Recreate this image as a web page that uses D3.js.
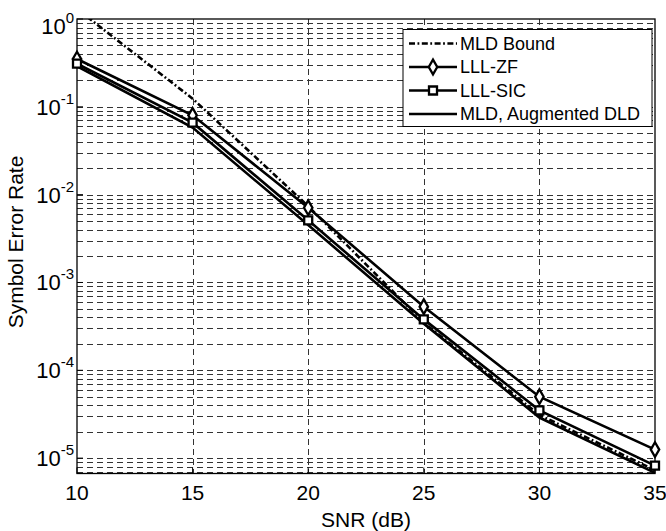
<!DOCTYPE html>
<html>
<head>
<meta charset="utf-8">
<script src="https://cdn.jsdelivr.net/npm/d3@7"></script>
<style>
body { margin: 0; background: #fff; }
</style>
</head>
<body>
<div></div>
<script>
const width = 666, height = 531
const svg = d3.select("div")
    .append("svg")
    .attr("xmlns", "http://www.w3.org/2000/svg")
    .attr("width", width)
    .attr("height", height)
    .style("font-family", "Arial, 'Liberation Sans', sans-serif")

// data
const snr = [10, 15, 20, 25, 30, 35]
const mldBound = [1.3, 0.124, 0.0074, 3.5e-4, 3.1e-5, 7.3e-6]
const lllZf = [0.35, 0.080, 0.0071, 5.3e-4, 5.0e-5, 1.25e-5]
const lllSic = [0.31, 0.066, 0.0051, 3.8e-4, 3.5e-5, 8.2e-6]
const mldAug = [0.29, 0.058, 0.0045, 3.4e-4, 2.9e-5, 6.8e-6]
const xTicks = [10, 15, 20, 25, 30, 35]
const yExps = [0, -1, -2, -3, -4, -5]
const legendNames = ["MLD Bound", "LLL-ZF", "LLL-SIC", "MLD, Augmented DLD"]

const series = [
	{name: legendNames[0], values: mldBound, dash: "6,2.5,1.8,2.5", marker: null},
	{name: legendNames[1], values: lllZf, dash: null, marker: d3.symbolDiamond},
	{name: legendNames[2], values: lllSic, dash: null, marker: d3.symbolSquare},
	{name: legendNames[3], values: mldAug, dash: null, marker: null}
]

// plot box
const pLeft = 77, pRight = 655, pTop = 19, pBottom = 473.5
const x = d3.scaleLinear().domain([10, 35]).range([pLeft, pRight])
const y = d3.scaleLog().domain([Math.pow(10, -5.175), 1]).range([pBottom, pTop])
const lineWidth = 2.6

// grid
const gridColor = "#333"
let minor = []
for (let e = -6; e <= 0; e++) {
	for (let m = 1; m <= 9; m++) {
		const v = m * Math.pow(10, e)
		if (v >= y.domain()[0] && v < 1) minor.push(v)
	}
}
svg.selectAll().data(minor).enter().append("line")
	.attr("x1", pLeft).attr("x2", pRight)
	.attr("y1", d => Math.round(y(d)) + 0.5)
	.attr("y2", d => Math.round(y(d)) + 0.5)
	.attr("stroke", gridColor)
	.attr("stroke-width", 1)
	.attr("stroke-dasharray", "6,4")
svg.selectAll().data(xTicks.slice(1, -1)).enter().append("line")
	.attr("x1", d => Math.round(x(d)) + 0.5).attr("x2", d => Math.round(x(d)) + 0.5)
	.attr("y1", pTop).attr("y2", pBottom)
	.attr("stroke", gridColor)
	.attr("stroke-width", 1)
	.attr("stroke-dasharray", "6,4")

// axes box
svg.append("rect")
	.attr("x", pLeft).attr("y", pTop)
	.attr("width", pRight - pLeft).attr("height", pBottom - pTop)
	.attr("fill", "none")
	.attr("stroke", "#000")
	.attr("stroke-width", 1.3)

// ticks
svg.selectAll().data(xTicks).enter().append("line")
	.attr("x1", d => x(d)).attr("x2", d => x(d))
	.attr("y1", pBottom).attr("y2", pBottom - 6)
	.attr("stroke", "#000")
svg.selectAll().data(yExps).enter().append("line")
	.attr("x1", pLeft).attr("x2", pLeft + 6)
	.attr("y1", d => y(Math.pow(10, d))).attr("y2", d => y(Math.pow(10, d)))
	.attr("stroke", "#000")

// tick labels
svg.selectAll().data(xTicks).enter().append("text")
	.attr("x", d => x(d))
	.attr("y", pBottom + 26)
	.attr("text-anchor", "middle")
	.attr("font-size", 21)
	.text(d => d)
const yLab = svg.selectAll().data(yExps).enter().append("text")
	.attr("x", pLeft - 3)
	.attr("y", d => Math.max(y(Math.pow(10, d)), 26) + 8)
	.attr("text-anchor", "end")
	.attr("font-size", 22)
yLab.append("tspan").text("10")
yLab.append("tspan")
	.attr("dy", -11)
	.attr("font-size", 15)
	.text(d => d)

// axis titles
svg.append("text")
	.attr("x", (pLeft + pRight) / 2)
	.attr("y", 527)
	.attr("text-anchor", "middle")
	.attr("font-size", 21)
	.text("SNR (dB)")
svg.append("text")
	.attr("transform", `translate(23,242) rotate(-90)`)
	.attr("text-anchor", "middle")
	.attr("font-size", 21)
	.text("Symbol Error Rate")

// curves
svg.append("clipPath").attr("id", "plotclip")
	.append("rect").attr("x", pLeft).attr("y", pTop).attr("width", pRight - pLeft).attr("height", pBottom - pTop)
const line = d3.line()
	.x((d, i) => x(snr[i]))
	.y(d => y(d))
const g = svg.append("g").attr("clip-path", "url(#plotclip)")
series.forEach(s => {
	g.append("path")
		.attr("d", line(s.values))
		.attr("fill", "none")
		.attr("stroke", "#000")
		.attr("stroke-width", lineWidth)
		.attr("stroke-dasharray", s.dash)
})
const markerSize = s => s.marker === d3.symbolDiamond ? 62 : 64
series.filter(s => s.marker).forEach(s => {
	svg.selectAll().data(s.values).enter().append("path")
		.attr("d", d3.symbol().type(s.marker).size(markerSize(s)))
		.attr("transform", (d, i) => `translate(${x(snr[i])},${y(d)})`)
		.attr("fill", "#fff")
		.attr("stroke", "#000")
		.attr("stroke-width", 2.3)
})

// legend
const lx = 403, ly = 29.5, lw = 249, lh = 97
svg.append("rect")
	.attr("x", lx).attr("y", ly).attr("width", lw).attr("height", lh)
	.attr("fill", "#fff").attr("stroke", "#000").attr("stroke-width", 1)
const rowY = i => 43.5 + i * 23.5
series.forEach((s, i) => {
	svg.append("line")
		.attr("x1", 409).attr("x2", 457)
		.attr("y1", rowY(i)).attr("y2", rowY(i))
		.attr("stroke", "#000")
		.attr("stroke-width", lineWidth)
		.attr("stroke-dasharray", s.dash)
	if (s.marker) {
		svg.append("path")
			.attr("d", d3.symbol().type(s.marker).size(markerSize(s)))
			.attr("transform", `translate(433,${rowY(i)})`)
			.attr("fill", "#fff")
			.attr("stroke", "#000")
			.attr("stroke-width", 2.3)
	}
	svg.append("text")
		.attr("x", 460)
		.attr("y", rowY(i))
		.attr("dy", "0.36em")
		.attr("font-size", 18)
		.text(s.name)
})
</script>
</body>
</html>
